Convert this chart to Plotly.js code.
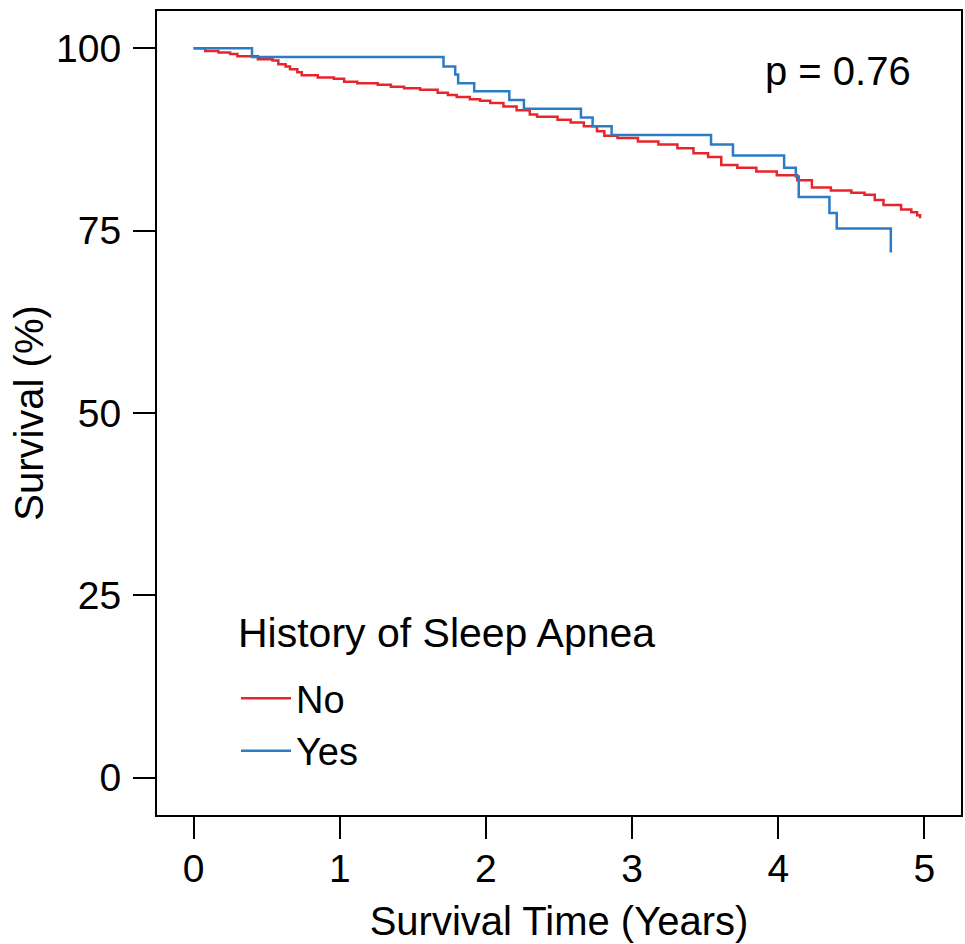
<!DOCTYPE html>
<html>
<head>
<meta charset="utf-8">
<script src="https://cdn.plot.ly/plotly-3.0.1.min.js"></script>
<style>html,body{margin:0;padding:0;background:#fff;}#chart{width:965px;height:944px;}</style>
</head>
<body>
<div id="chart"></div>
<script>
// Survival time (years) and survival (%)
const noTime = [0, 0.08, 0.17, 0.25, 0.30, 0.44, 0.54, 0.58, 0.63, 0.66, 0.71, 0.74, 0.85, 0.96, 1.03, 1.12, 1.26, 1.35, 1.44, 1.55, 1.67, 1.74, 1.80, 1.89, 1.96, 2.03, 2.12, 2.21, 2.30, 2.35, 2.49, 2.58, 2.67, 2.76, 2.81, 2.90, 3.04, 3.18, 3.31, 3.42, 3.52, 3.61, 3.72, 3.85, 3.99, 4.13, 4.23, 4.36, 4.50, 4.59, 4.66, 4.72, 4.84, 4.91, 4.95, 4.97];
const noSurv = [100, 99.6, 99.4, 99.2, 98.9, 98.5, 98.3, 97.8, 97.5, 97.1, 96.7, 96.3, 96.0, 95.8, 95.4, 95.2, 95.0, 94.7, 94.5, 94.3, 93.9, 93.6, 93.3, 93.0, 92.8, 92.5, 92.0, 91.5, 90.9, 90.6, 90.2, 89.8, 89.3, 88.6, 88.0, 87.7, 87.2, 86.8, 86.3, 85.6, 85.1, 84.0, 83.6, 83.1, 82.6, 81.9, 80.9, 80.5, 80.2, 79.9, 79.2, 78.5, 77.9, 77.5, 77.1, 76.7];
const yesTime = [0, 0.40, 1.71, 1.79, 1.81, 1.92, 2.16, 2.26, 2.65, 2.73, 2.86, 3.54, 3.69, 4.04, 4.12, 4.14, 4.35, 4.40, 4.77];
const yesSurv = [100, 98.8, 97.5, 96.4, 95.2, 94.1, 92.9, 91.7, 90.5, 89.3, 88.1, 86.8, 85.3, 83.6, 82.4, 79.6, 77.4, 75.3, 72.0];
const groupNames = ['No', 'Yes'];
const legendTitle = 'History of Sleep Apnea';
const xTicks = [0, 1, 2, 3, 4, 5];
const yTicks = [0, 25, 50, 75, 100];
const pLabel = 'p = 0.76';

const FONT = 'Liberation Sans, Arial, Helvetica, sans-serif';
const traces = [
  {x: noTime, y: noSurv, name: groupNames[0], type: 'scatter', mode: 'lines',
   line: {shape: 'hv', color: '#e8252d', width: 2.5}},
  {x: yesTime, y: yesSurv, name: groupNames[1], type: 'scatter', mode: 'lines',
   line: {shape: 'hv', color: '#2b7cc3', width: 2.5}}
];
const layout = {
  width: 965, height: 944,
  margin: {l: 157, r: 4, t: 11, b: 129},
  paper_bgcolor: '#fff', plot_bgcolor: '#fff',
  font: {family: FONT, color: '#000', size: 40},
  showlegend: true,
  legend: {
    x: (236 - 157) / 804, y: 0.184, xanchor: 'left', yanchor: 'top',
    bgcolor: 'rgba(0,0,0,0)', borderwidth: 0,
    font: {family: FONT, size: 38, color: '#000'},
    itemwidth: 50,
    tracegroupgap: 0
  },
  xaxis: {
    range: [-0.25, 5.25], tickvals: xTicks, ticktext: xTicks.map(String),
    ticks: 'outside', ticklen: 22, tickwidth: 2, tickcolor: '#000',
    showline: true, mirror: true, linewidth: 2, linecolor: '#000',
    showgrid: false, zeroline: false, ticklabelstandoff: -4,
    tickfont: {family: FONT, size: 39, color: '#000'},
    title: {text: 'Survival Time (Years)', font: {family: FONT, size: 40, color: '#000'}, standoff: 18}
  },
  yaxis: {
    range: [-5.12, 105.1], tickvals: yTicks, ticktext: yTicks.map(String),
    ticks: 'outside', ticklen: 22, tickwidth: 2, tickcolor: '#000',
    showline: true, mirror: true, linewidth: 2, linecolor: '#000',
    showgrid: false, zeroline: false, ticklabelstandoff: 4,
    tickfont: {family: FONT, size: 39, color: '#000'},
    title: {text: 'Survival (%)', font: {family: FONT, size: 40, color: '#000'}, standoff: 0}
  },
  annotations: [{
    x: 4.92, y: 96.9, xref: 'x', yref: 'y', xanchor: 'right', yanchor: 'middle',
    text: pLabel, showarrow: false, font: {family: FONT, size: 40, color: '#000'}
  }, {
    x: (236 - 157) / 804, y: 1 - (633 - 11) / 804, xref: 'paper', yref: 'paper',
    xanchor: 'left', yanchor: 'middle',
    text: legendTitle, showarrow: false, font: {family: FONT, size: 41, color: '#000'}
  }]
};
Plotly.newPlot('chart', traces, layout, {displayModeBar: false, staticPlot: true});
</script>
</body>
</html>
